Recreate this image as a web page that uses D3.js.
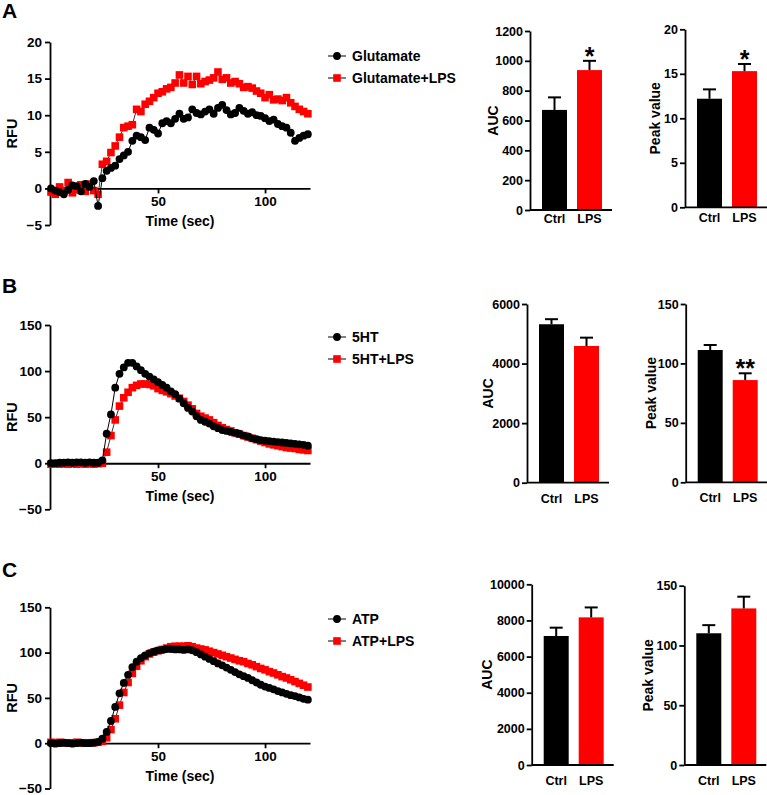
<!DOCTYPE html>
<html>
<head>
<meta charset="utf-8">
<script src="https://cdn.jsdelivr.net/npm/d3@7"></script>
<style>
  body { margin: 0; background: #fff; }
  text { font-family: "Liberation Sans", Arial, sans-serif; font-weight: bold; }
</style>
</head>
<body>
<script>

// Time points (sec)
var timeSec = [0,2,4,6,8,10,12,14,16,18,20,22,24,26,28,30,32,34,36,38,40,42,44,46,48,50,52,54,56,58,60,
  62,64,66,68,70,72,74,76,78,80,82,84,86,88,90,92,94,96,98,100,102,104,106,108,110,112,114,116,118,120];

// Panel A traces (RFU)
var glutamate = [0.0,-0.3,-0.5,-0.8,-0.2,0.4,0.3,-0.4,0.6,0.2,1.0,-2.4,
  1.4,2.4,2.8,3.1,4.0,4.5,5.0,6.5,7.2,7.0,6.6,8.3,8.0,
  7.5,8.9,9.2,8.9,9.5,10.2,9.5,9.7,10.8,10.3,
  10.1,10.5,10.8,10.2,11.0,11.4,10.7,10.1,10.3,11.0,
  10.6,10.2,10.4,10.0,9.9,9.6,9.2,9.4,8.8,8.5,
  8.3,7.6,6.5,6.9,7.2,7.4];
var glutamateLps = [-0.5,-0.8,0.2,-0.3,0.8,-0.6,-0.2,0.5,-0.4,0.6,-0.3,-0.8,
  3.3,3.7,4.9,5.8,7.0,8.3,8.5,8.7,10.8,10.5,11.5,11.9,12.4,
  13.0,13.2,13.6,13.8,14.4,15.5,14.4,15.3,14.2,15.3,
  14.3,14.6,14.8,15.1,15.9,14.9,15.1,14.4,14.6,14.3,
  13.8,13.9,13.7,13.3,13.0,12.4,12.8,12.1,12.2,12.0,
  12.4,11.7,11.2,10.8,10.5,10.2];

// Panel B traces (RFU)
var ht5 = [0,0,0.5,0.5,1,0.5,1,1,0.5,1,0.5,0.5,
  3,32,53,82,97,104,109,109,105,101,97,94,91,
  88,85,82,78,75,70,65,60,56,51,
  47,45,43,40,38,36,35,34,33,32,
  30,29,27,26,25,24.5,24,23.5,23,22.5,
  22,21.5,21,20.5,20,19];
var ht5Lps = [-1,-0.5,-1,-0.5,-1,-0.5,-1,-0.5,-1,-0.5,-1,-0.5,
  0,12,30,47,62,71,77,82,84.5,86,86,85.5,84,
  81,79,77.5,75.5,73,70.5,67,63,59,54,
  51,49,47,44,41,38.5,36.5,35,33,31.5,
  30,28.5,27,25.5,24,22.5,21,20,19,18,
  17,16.5,16,15,14.5,13.8];

// Panel C traces (RFU)
var atp = [0,-0.5,0,0.5,0,-0.5,0,0.5,0,0,0.5,1.5,
  5,12.5,24.5,40,55,66.5,75.5,84,90,94,97,99.5,101,
  102.5,103,104,104,103.5,103.5,103,103.5,102.5,100.5,
  98,95.5,93,90.5,88,86,83.5,81,78.5,76,
  74,72,69.5,67,64.5,62.5,61,59.5,57.5,56,
  54.5,53,52,50.5,49,48];
var atpLps = [1,0.5,1,0.5,0,0.5,1,0.5,0,0.5,0.5,1,
  2,6,15,27,42,56,67,77,85,91,95.5,98.5,100.5,
  102,103.5,105,106.5,107,107,107,107.5,106.5,105,
  104,103,101.5,100,98.5,97,95.5,94,92.5,91,
  90,88,86.5,84.5,82.5,81,79,77.5,75.5,73.5,
  72,70,68,66,64,62];

// Bar groups
var groups = ["Ctrl", "LPS"];

// Bar means and SEM (Ctrl, LPS)
var aucA = [671, 938];      var aucASem = [84, 62];
var peakA = [12.2, 15.3];   var peakASem = [1.05, 0.8];
var aucB = [5320, 4590];    var aucBSem = [170, 280];
var peakB = [111.3, 86];    var peakBSem = [4.2, 5.7];
var aucC = [7140, 8170];    var aucCSem = [460, 550];
var peakC = [110.2, 131];   var peakCSem = [6.8, 9.8];

// Significance marks
var starsA = ["", "*"];
var starsBPeak = ["", "**"];
var noStars = ["", ""];

// Y tick values
var ticksRfuA = [-5, 0, 5, 10, 15, 20];
var ticksRfu = [-50, 0, 50, 100, 150];
var ticksAucA = [0, 200, 400, 600, 800, 1000, 1200];
var ticksPeakA = [0, 5, 10, 15, 20];
var ticksAucB = [0, 2000, 4000, 6000];
var ticksAucC = [0, 2000, 4000, 6000, 8000, 10000];
var ticksPeak = [0, 50, 100, 150];
var ticksTime = [50, 100];

var colors = ["#000000", "#ff0000"];

// Create SVG area
var svg = d3.select("body").append("svg")
    .attr("width", 767)
    .attr("height", 795);

// Style an axis group
function styleAxis(g, size) {
  g.attr("font-family", null).attr("font-size", null);
  g.selectAll("path, line").attr("stroke", "#000").attr("stroke-width", 1.8);
  g.selectAll("text").style("font-size", size + "px").attr("fill", "#000");
}

// Time course panel
function linePanel(p) {

  var x = d3.scaleLinear().domain([0, 121]).range([51, 310]);
  var y = d3.scaleLinear().domain(p.yDomain).range([p.bottom, p.top]);

  // Panel letter
  svg.append("text")
     .attr("x", 2)
     .attr("y", p.letterY)
     .style("font-size", "21px")
     .text(p.letter);

  // Y axis
  var gy = svg.append("g")
     .attr("transform", "translate(50,0)")
     .call(d3.axisLeft(y).tickValues(p.ticks).tickFormat(d3.format("d"))
       .tickSize(5).tickSizeOuter(0).tickPadding(3));
  styleAxis(gy, 13.5);

  // X axis through zero
  var gx = svg.append("g")
     .attr("transform", "translate(0," + y(0) + ")")
     .call(d3.axisBottom(x).tickValues(ticksTime).tickSize(5).tickSizeOuter(0).tickPadding(3));
  styleAxis(gx, 13.5);

  // Axis titles
  svg.append("text")
     .attr("x", 180)
     .attr("y", y(0) + 38)
     .style("font-size", "14px")
     .style("text-anchor", "middle")
     .text("Time (sec)");

  svg.append("text")
     .attr("transform", "translate(17," + (p.top + p.bottom) / 2 + ") rotate(-90)")
     .style("font-size", "14.5px")
     .style("text-anchor", "middle")
     .text("RFU");

  var line = d3.line()
     .x(function(d, i) { return x(timeSec[i]); })
     .y(function(d) { return y(d); });

  // LPS trace (squares) first, control trace (circles) on top
  svg.append("path")
     .attr("d", line(p.lps))
     .attr("fill", "none")
     .attr("stroke", "#000")
     .attr("stroke-width", 0.8);

  svg.append("g").selectAll("rect")
     .data(p.lps)
     .enter().append("rect")
     .attr("x", function(d, i) { return x(timeSec[i]) - 3.8; })
     .attr("y", function(d) { return y(d) - 3.8; })
     .attr("width", 7.6)
     .attr("height", 7.6)
     .attr("fill", colors[1]);

  svg.append("path")
     .attr("d", line(p.ctrl))
     .attr("fill", "none")
     .attr("stroke", "#000")
     .attr("stroke-width", 1);

  svg.append("g").selectAll("circle")
     .data(p.ctrl)
     .enter().append("circle")
     .attr("cx", function(d, i) { return x(timeSec[i]); })
     .attr("cy", function(d) { return y(d); })
     .attr("r", 3.9)
     .attr("fill", colors[0]);

  // Legend
  var legend = svg.selectAll(".legend" + p.letter)
     .data(p.names)
     .enter().append("g")
     .attr("transform", function(d, i) { return "translate(0," + (p.legendY + i * 22) + ")"; });

  legend.append("line")
     .attr("x1", 328).attr("x2", 346)
     .attr("stroke", "#000")
     .attr("stroke-width", 1);

  legend.each(function(d, i) {
    var g = d3.select(this);
    if (i == 0) {
      g.append("circle").attr("cx", 337).attr("r", 3.9).attr("fill", colors[0]);
    } else {
      g.append("rect").attr("x", 333.2).attr("y", -3.8).attr("width", 7.6).attr("height", 7.6).attr("fill", colors[1]);
    }
  });

  legend.append("text")
     .attr("x", 352)
     .attr("dy", "0.36em")
     .style("font-size", "14px")
     .text(function(d) { return d; });
}

// Bar panel with error bars
function barPanel(p) {

  var x = d3.scaleBand()
     .domain(groups)
     .range([p.axisX + 7, p.axisX + 77])
     .paddingInner(0.286)
     .paddingOuter(0.143);

  var y = d3.scaleLinear().domain([0, p.max]).range([p.bottom, p.top]);

  // Bars
  svg.append("g").selectAll("rect")
     .data(p.means)
     .enter().append("rect")
     .attr("x", function(d, i) { return x(groups[i]); })
     .attr("y", function(d) { return y(d); })
     .attr("width", x.bandwidth())
     .attr("height", function(d) { return y(0) - y(d); })
     .attr("fill", function(d, i) { return colors[i]; });

  // Error bars (upper only)
  var err = svg.append("g").selectAll("g")
     .data(p.means)
     .enter().append("g");

  err.append("line")
     .attr("x1", function(d, i) { return x(groups[i]) + x.bandwidth() / 2; })
     .attr("x2", function(d, i) { return x(groups[i]) + x.bandwidth() / 2; })
     .attr("y1", function(d) { return y(d); })
     .attr("y2", function(d, i) { return y(d + p.sem[i]); })
     .attr("stroke", "#000")
     .attr("stroke-width", 2);

  err.append("line")
     .attr("x1", function(d, i) { return x(groups[i]) + x.bandwidth() / 2 - 6.5; })
     .attr("x2", function(d, i) { return x(groups[i]) + x.bandwidth() / 2 + 6.5; })
     .attr("y1", function(d, i) { return y(d + p.sem[i]); })
     .attr("y2", function(d, i) { return y(d + p.sem[i]); })
     .attr("stroke", "#000")
     .attr("stroke-width", 2);

  // Stars
  svg.append("g").selectAll("text")
     .data(p.means)
     .enter().append("text")
     .attr("x", function(d, i) { return x(groups[i]) + x.bandwidth() / 2; })
     .attr("y", function(d, i) { return y(d + p.sem[i]) + 4; })
     .style("font-size", "25px")
     .style("text-anchor", "middle")
     .text(function(d, i) { return p.stars[i]; });

  // Y axis
  var gy = svg.append("g")
     .attr("transform", "translate(" + p.axisX + ",0)")
     .call(d3.axisLeft(y).tickValues(p.ticks).tickFormat(d3.format("d"))
       .tickSize(5).tickSizeOuter(0).tickPadding(2));
  styleAxis(gy, 12.5);

  // X axis line
  svg.append("line")
     .attr("x1", p.axisX).attr("x2", p.axisX + 82)
     .attr("y1", y(0)).attr("y2", y(0))
     .attr("stroke", "#000")
     .attr("stroke-width", 1.8);

  // Group labels
  svg.append("g").selectAll("text")
     .data(groups)
     .enter().append("text")
     .attr("x", function(d) { return x(d) + x.bandwidth() / 2; })
     .attr("y", y(0) + p.labelDy)
     .style("font-size", "12.5px")
     .style("text-anchor", "middle")
     .text(function(d) { return d; });

  // Y title
  svg.append("text")
     .attr("transform", "translate(" + p.titleX + "," + (p.top + p.bottom) / 2 + ") rotate(-90)")
     .attr("dy", "0.36em")
     .style("font-size", "14px")
     .style("text-anchor", "middle")
     .text(p.title);
}

// Panel A
linePanel({letter: "A", letterY: 18, yDomain: [-5, 20], top: 42, bottom: 225, ticks: ticksRfuA,
  ctrl: glutamate, lps: glutamateLps, names: ["Glutamate", "Glutamate+LPS"], legendY: 56});
barPanel({axisX: 530, top: 31, bottom: 210, max: 1200, ticks: ticksAucA, means: aucA, sem: aucASem,
  stars: starsA, title: "AUC", titleX: 493, labelDy: 13});
barPanel({axisX: 685, top: 29.3, bottom: 207.3, max: 20, ticks: ticksPeakA, means: peakA, sem: peakASem,
  stars: starsA, title: "Peak value", titleX: 655, labelDy: 15});

// Panel B
linePanel({letter: "B", letterY: 293, yDomain: [-50, 150], top: 325, bottom: 509.3, ticks: ticksRfu,
  ctrl: ht5, lps: ht5Lps, names: ["5HT", "5HT+LPS"], legendY: 337});
barPanel({axisX: 527, top: 304, bottom: 482.7, max: 6000, ticks: ticksAucB, means: aucB, sem: aucBSem,
  stars: noStars, title: "AUC", titleX: 487.5, labelDy: 20});
barPanel({axisX: 685.7, top: 304, bottom: 482.3, max: 150, ticks: ticksPeak, means: peakB, sem: peakBSem,
  stars: starsBPeak, title: "Peak value", titleX: 651, labelDy: 20});

// Panel C
linePanel({letter: "C", letterY: 577, yDomain: [-50, 150], top: 607.3, bottom: 788.5, ticks: ticksRfu,
  ctrl: atp, lps: atpLps, names: ["ATP", "ATP+LPS"], legendY: 619});
barPanel({axisX: 531.7, top: 584.3, bottom: 765, max: 10000, ticks: ticksAucC, means: aucC, sem: aucCSem,
  stars: noStars, title: "AUC", titleX: 486.5, labelDy: 20});
barPanel({axisX: 684.3, top: 585.7, bottom: 765, max: 150, ticks: ticksPeak, means: peakC, sem: peakCSem,
  stars: noStars, title: "Peak value", titleX: 647.5, labelDy: 20});

</script>
</body>
</html>
